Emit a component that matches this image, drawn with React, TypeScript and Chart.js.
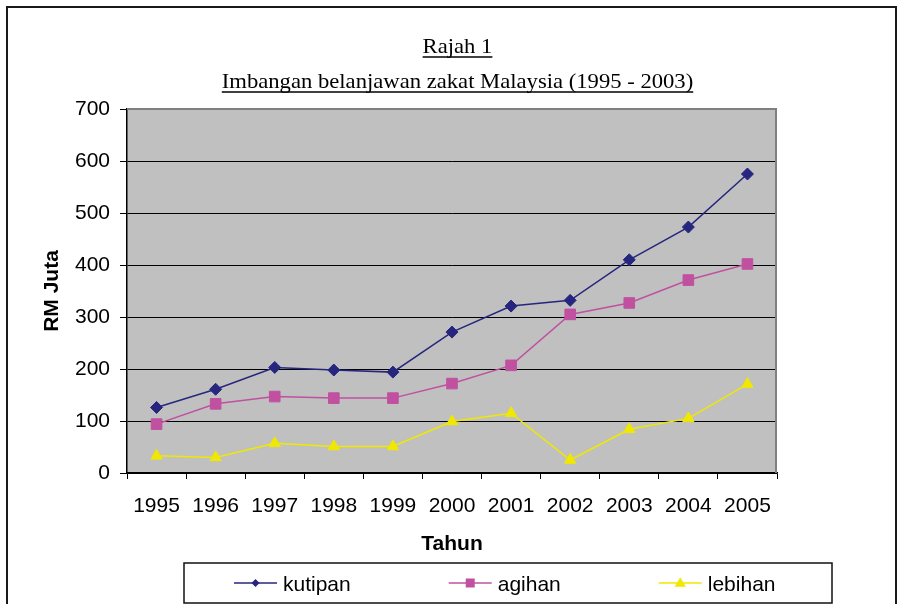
import React, { useEffect, useRef } from "react";
import { Chart, registerables } from "chart.js";

Chart.register(...registerables);

// ---- data ----
const YEARS = ["1995", "1996", "1997", "1998", "1999", "2000", "2001", "2002", "2003", "2004", "2005"];
const KUTIPAN = [126, 161, 203, 198, 194, 271, 321, 332, 410, 473, 575];
const AGIHAN = [94, 133, 147, 144, 144, 172, 207, 305, 327, 371, 402];
const LEBIHAN = [33, 30, 57, 51, 51, 99, 115, 25, 84, 105, 171];
const SERIES_NAMES = ["kutipan", "agihan", "lebihan"];
const Y_MIN = 0;
const Y_MAX = 700;
const Y_STEP = 100;
const TITLE_LINES = ["Rajah 1", "Imbangan belanjawan zakat Malaysia (1995 - 2003)"];
const X_TITLE = "Tahun";
const Y_TITLE = "RM Juta";

// ---- style ----
const SANS = "'Liberation Sans', Arial, sans-serif";
const SERIF = "'Liberation Serif', 'Times New Roman', serif";
const C_KUT = "#26267E";
const C_AGI = "#C050A0";
const C_LEB = "#F0E800";
const PLOT_BG = "#C0C0C0";
const PLOT_EDGE = "#808080";

function drawMarker(ctx: CanvasRenderingContext2D, style: string, x: number, y: number, r: number, color: string) {
  ctx.save();
  ctx.fillStyle = color;
  ctx.beginPath();
  if (style === "rectRot") {
    ctx.moveTo(x - r, y);
    ctx.lineTo(x, y - r);
    ctx.lineTo(x + r, y);
    ctx.lineTo(x, y + r);
  } else if (style === "rect") {
    ctx.rect(x - r, y - r, 2 * r, 2 * r);
  } else {
    const h = r * 1.6;
    ctx.moveTo(x, y - h * 0.6);
    ctx.lineTo(x + r * 0.95, y + h * 0.4);
    ctx.lineTo(x - r * 0.95, y + h * 0.4);
  }
  ctx.closePath();
  ctx.fill();
  ctx.restore();
}

const decorPlugin = {
  id: "decor",
  beforeDraw(chart: any) {
    const { ctx, chartArea: a } = chart;
    ctx.save();
    ctx.fillStyle = "#ffffff";
    ctx.fillRect(0, 0, chart.width, chart.height);
    ctx.fillStyle = PLOT_BG;
    ctx.fillRect(a.left, a.top, a.right - a.left, a.bottom - a.top);
    ctx.restore();
  },
  beforeDatasetsDraw(chart: any) {
    const { ctx, chartArea: a } = chart;
    ctx.save();
    ctx.strokeStyle = PLOT_EDGE;
    ctx.lineWidth = 2;
    ctx.beginPath();
    ctx.moveTo(a.left, a.top);
    ctx.lineTo(a.right - 1, a.top);
    ctx.lineTo(a.right - 1, a.bottom);
    ctx.stroke();
    ctx.restore();
  },
  afterDraw(chart: any) {
    const { ctx } = chart;
    ctx.save();
    // outer frame
    ctx.strokeStyle = "#1a1a1a";
    ctx.lineWidth = 2;
    ctx.strokeRect(7, 7, 889, 660);

    // titles (underlined serif)
    ctx.fillStyle = "#000";
    ctx.strokeStyle = "#000";
    ctx.font = `21px ${SERIF}`;
    ctx.textAlign = "center";
    ctx.textBaseline = "alphabetic";
    const cx = 457.5;
    const baselines = [53, 88];
    const sx = 1.078;
    TITLE_LINES.forEach((t, i) => {
      const w = ctx.measureText(t).width;
      ctx.save();
      ctx.translate(cx, baselines[i]);
      ctx.scale(sx, 1);
      ctx.fillText(t, 0, 0);
      ctx.lineWidth = 1.3;
      ctx.beginPath();
      ctx.moveTo(-w / 2, 4);
      ctx.lineTo(w / 2, 4);
      ctx.stroke();
      ctx.restore();
    });

    // legend box
    ctx.lineWidth = 1.5;
    ctx.strokeStyle = "#111";
    ctx.strokeRect(184, 563, 648, 40);

    // legend items
    ctx.font = `21px ${SANS}`;
    ctx.textAlign = "left";
    ctx.textBaseline = "alphabetic";
    const cy = 583;
    let x = 234;
    const lineLen = 43;
    chart.data.datasets.forEach((ds: any) => {
      ctx.strokeStyle = ds.borderColor;
      ctx.lineWidth = 1.5;
      ctx.beginPath();
      ctx.moveTo(x, cy);
      ctx.lineTo(x + lineLen, cy);
      ctx.stroke();
      const r = ds.pointStyle === "rect" ? 4.5 : ds.pointStyle === "rectRot" ? 4 : 6;
      drawMarker(ctx, ds.pointStyle, x + lineLen / 2, cy, r, ds.borderColor);
      ctx.fillStyle = "#000";
      const tx = x + lineLen + 6;
      ctx.fillText(ds.label, tx, 591);
      x = tx + ctx.measureText(ds.label).width + 98;
    });
    ctx.restore();
  },
};

export default function App() {
  const ref = useRef<HTMLCanvasElement | null>(null);

  useEffect(() => {
    if (!ref.current) return;
    const chart = new Chart(ref.current, {
      type: "line",
      data: {
        labels: YEARS,
        datasets: [
          {
            label: SERIES_NAMES[0],
            data: KUTIPAN,
            borderColor: C_KUT,
            backgroundColor: C_KUT,
            pointStyle: "rectRot",
            pointRadius: 6,
            borderWidth: 1.5,
            pointBorderWidth: 1,
            tension: 0,
          },
          {
            label: SERIES_NAMES[1],
            data: AGIHAN,
            borderColor: C_AGI,
            backgroundColor: C_AGI,
            pointStyle: "rect",
            pointRadius: 7.5,
            borderWidth: 1.5,
            pointBorderWidth: 1,
            tension: 0,
          },
          {
            label: SERIES_NAMES[2],
            data: LEBIHAN,
            borderColor: C_LEB,
            backgroundColor: C_LEB,
            pointStyle: "triangle",
            pointRadius: 6.5,
            borderWidth: 1.5,
            pointBorderWidth: 1,
            tension: 0,
          },
        ],
      },
      options: {
        responsive: false,
        animation: false,
        events: [],
        layout: { padding: { left: 0, top: 109, right: 122, bottom: 41 } },
        plugins: {
          legend: { display: false },
          title: { display: false },
          tooltip: { enabled: false },
        },
        scales: {
          x: {
            offset: true,
            grid: {
              offset: true,
              drawOnChartArea: false,
              drawTicks: true,
              tickLength: 6,
              tickColor: "#000",
              color: "#000",
            },
            border: { display: true, color: "#000", width: 1.5 },
            ticks: {
              color: "#000",
              font: { family: SANS, size: 21 },
              padding: 15,
              maxRotation: 0,
              autoSkip: false,
            },
            title: {
              display: true,
              text: X_TITLE,
              color: "#000",
              font: { family: SANS, size: 21, weight: "bold" },
              padding: { top: 0, bottom: 6 },
            },
            afterFit: (s: any) => {
              s.height = 90;
            },
          },
          y: {
            min: Y_MIN,
            max: Y_MAX,
            grid: {
              drawTicks: true,
              tickLength: 7,
              tickColor: "#000",
              color: (c: any) => (c.tick && c.tick.value === Y_MAX ? PLOT_EDGE : "#000"),
              lineWidth: 1,
            },
            border: { display: true, color: "#000", width: 1.5 },
            ticks: {
              stepSize: Y_STEP,
              color: "#000",
              font: { family: SANS, size: 21 },
              padding: 10,
            },
            title: {
              display: true,
              text: Y_TITLE,
              color: "#000",
              font: { family: SANS, size: 21, weight: "bold" },
              padding: { top: 40, bottom: 0 },
            },
            afterFit: (s: any) => {
              s.width = 127;
            },
          },
        },
      },
      plugins: [decorPlugin],
    });
    return () => chart.destroy();
  }, []);

  return (
    <div style={{ position: "absolute", left: 0, top: 0, width: 899, height: 604 }}>
      <canvas ref={ref} width={899} height={604} style={{ display: "block" }} />
    </div>
  );
}
